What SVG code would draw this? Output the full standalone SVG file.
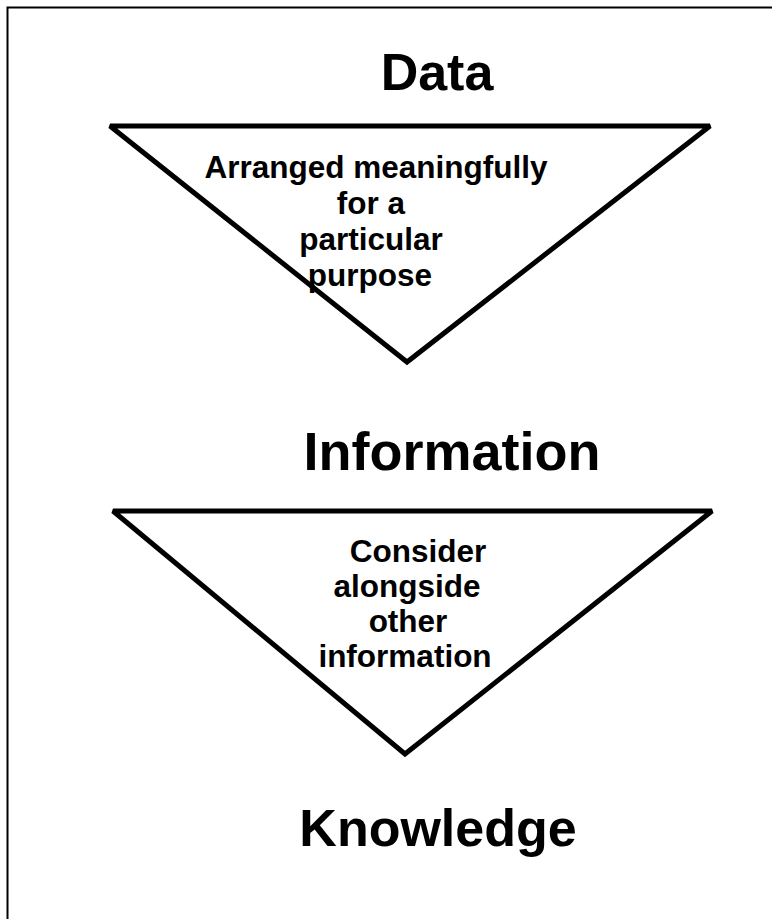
<svg xmlns="http://www.w3.org/2000/svg" width="772" height="919" viewBox="0 0 772 919">
  <style>
    .frame { fill: none; stroke: #000; stroke-width: 2; }
    .tri { fill: #fff; stroke: #000; stroke-width: 5; stroke-linejoin: miter; stroke-miterlimit: 2; }
    .title { font-family: "Liberation Sans", Arial, sans-serif; font-weight: bold; fill: #000; text-anchor: middle; }
    .step { font-family: "Liberation Sans", Arial, sans-serif; font-weight: bold; font-size: 31.5px; fill: #000; text-anchor: middle; }
  </style>
  <rect width="772" height="919" fill="#fff"/>
  <!-- outer frame, running past the right and bottom edges -->
  <rect class="frame" x="7.5" y="7.5" width="800" height="950"/>

  <g id="data">
    <text class="title" x="437" y="90" font-size="52">Data</text>
  </g>

  <!-- funnel steps between the stages -->
  <g id="connectors">
    <g id="step-arrange">
      <polygon class="tri" points="110,126 710,126 407,362"/>
      <text class="step" x="376" y="178">Arranged meaningfully</text>
      <text class="step" x="371" y="214">for a</text>
      <text class="step" x="371" y="250">particular</text>
      <text class="step" x="370" y="286">purpose</text>
    </g>
    <g id="step-consider">
      <polygon class="tri" points="113,511 712,511 405,754"/>
      <text class="step" x="418" y="562">Consider</text>
      <text class="step" x="407" y="597">alongside</text>
      <text class="step" x="408" y="632">other</text>
      <text class="step" x="405" y="667">information</text>
    </g>
  </g>

  <g id="information">
    <text class="title" x="452" y="470" font-size="54">Information</text>
  </g>

  <g id="knowledge">
    <text class="title" x="438" y="846" font-size="52">Knowledge</text>
  </g>
</svg>
